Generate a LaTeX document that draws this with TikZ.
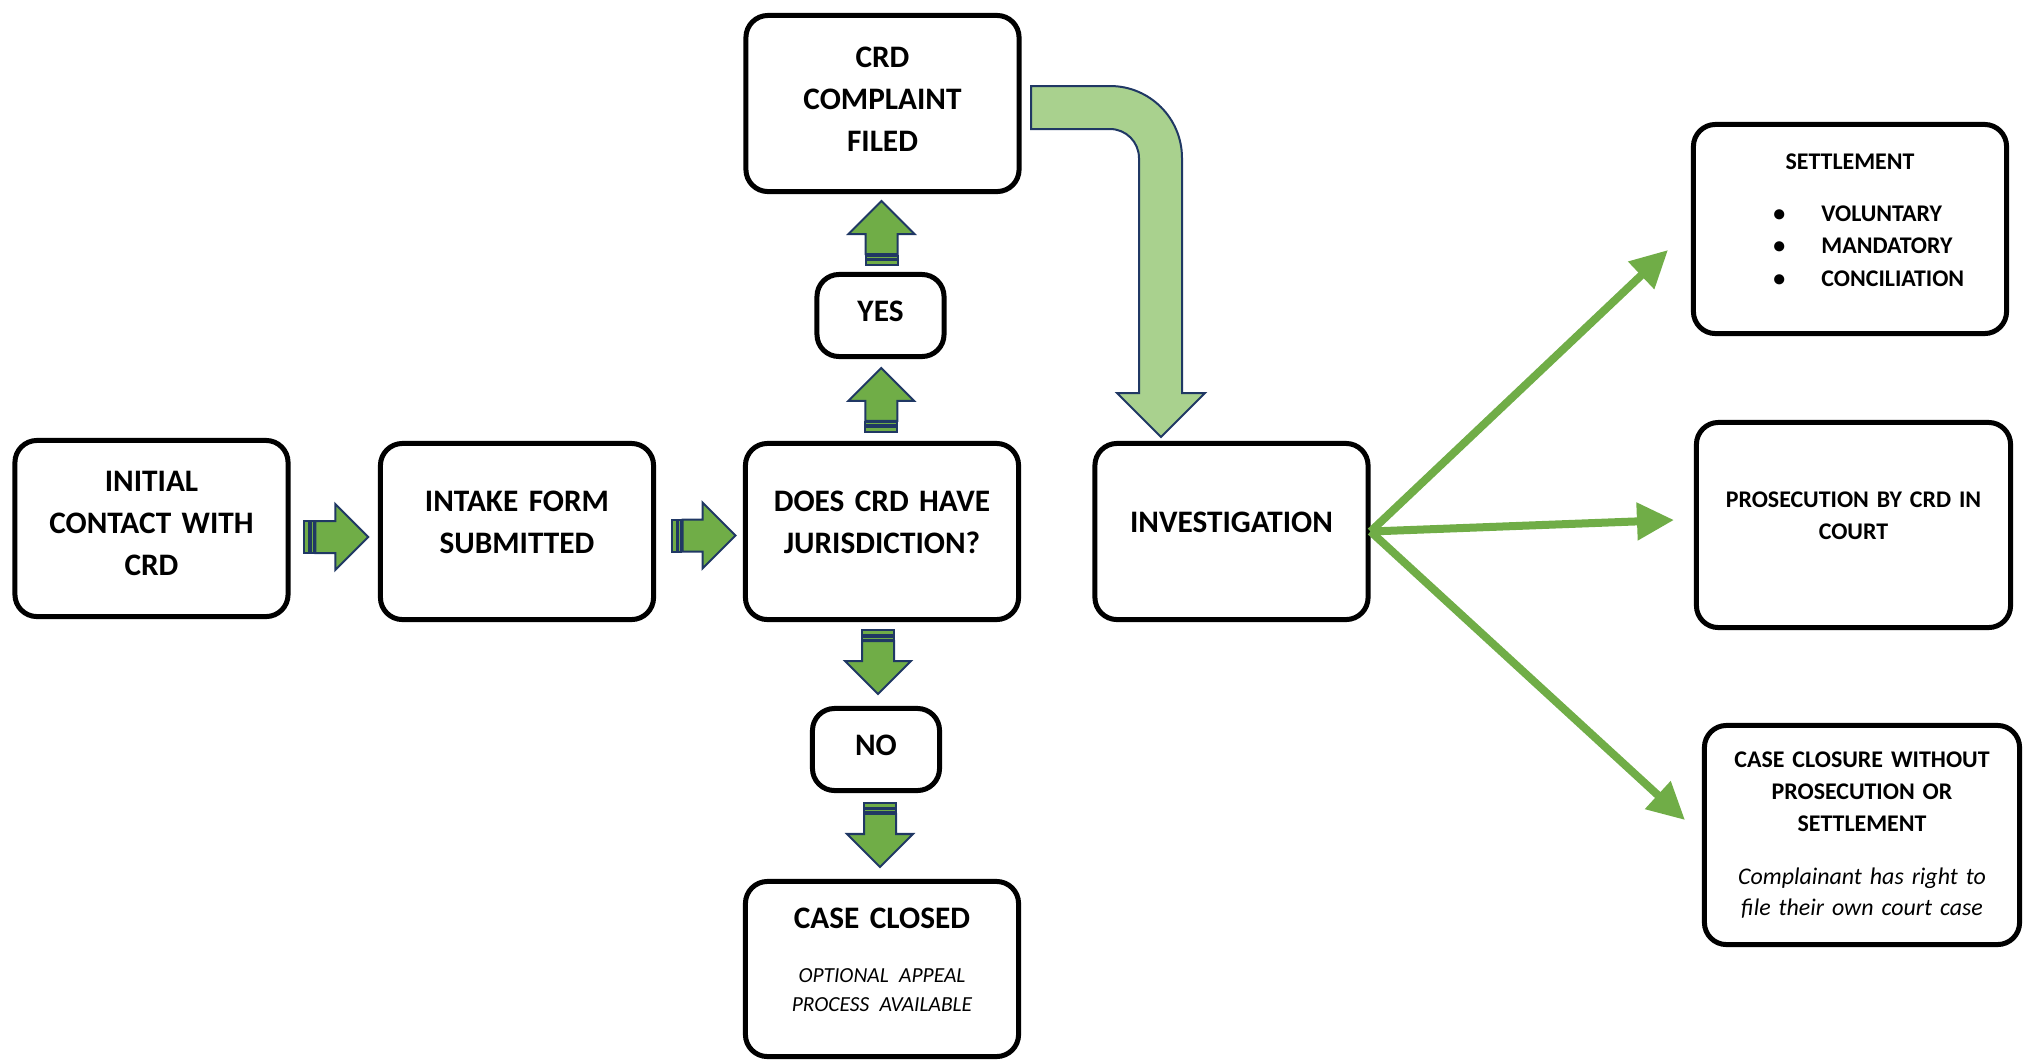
\documentclass[tikz,border=0pt]{standalone}
\usepackage{fontspec}
\setmainfont{Carlito}
\usetikzlibrary{calc,arrows.meta,positioning}
\definecolor{flowGreen}{RGB}{112,173,71}
\definecolor{paleGreen}{RGB}{169,209,142}
\definecolor{flowNavy}{RGB}{32,56,100}
\tikzset{
  lift/.style={execute at end node={\par\vspace{#1}}},
  stepbox/.style={draw=black,line width=0.05cm,rounded corners=0.22cm,inner sep=0pt,align=center,text width=2.6cm,
    minimum width=2.73cm,minimum height=1.76cm,font=\bfseries\fontsize{8.9}{12}\selectfont},
  answerbox/.style={stepbox,text width=1.2cm,minimum width=1.27cm,minimum height=0.82cm},
  outcomebox/.style={stepbox,text width=3.1cm,font=\bfseries\fontsize{6.8}{9.2}\selectfont},
  fanarrow/.style={draw=flowGreen,line width=0.08cm,-{Triangle[length=0.37cm,width=0.36cm]}},
  stripe/.style={fill=flowGreen,draw=flowNavy,line width=0.02cm}
}
\newcommand{\StripedArrow}[2]{%
\begin{scope}[shift={#1},rotate=#2]
  \filldraw[stripe] (-32,-16) rectangle (-27,16);
  \filldraw[stripe] (-25.5,-16) rectangle (-22.5,16);
  \filldraw[stripe] (-21,-16) -- (-1,-16) -- (-1,-33) -- (32,0) -- (-1,33) -- (-1,16) -- (-21,16) -- cycle;
\end{scope}}

\begin{document}
\begin{tikzpicture}[x=0.01cm,y=-0.01cm]
\useasboundingbox (0,0) rectangle (2032,1063);

% main line
\node[stepbox,lift=0.1cm] (contact) at (151.5,528.5) {INITIAL\\CONTACT WITH\\CRD};
\node[stepbox,lift=0.18cm] (intake) at (517,531.5) {INTAKE FORM\\SUBMITTED};
\node[stepbox,lift=0.18cm] (juris) at (882,531.5) {DOES CRD HAVE\\JURISDICTION?};
\node[stepbox,lift=0.08cm] (complaint) at (882.5,103.5) {CRD\\COMPLAINT\\FILED};
\node[answerbox,lift=0.09cm] (yes) at (880.5,315.5) {YES};
\node[answerbox,lift=0.09cm] (no) at (876,749.5) {NO};
\node[stepbox,lift=0.18cm,minimum height=1.75cm] (closed) at (882,969) {CASE CLOSED\par\vspace{0.25cm}
  {\mdseries\itshape\fontsize{6.1}{8.3}\selectfont OPTIONAL APPEAL\\PROCESS AVAILABLE\par}};
\node[stepbox,lift=0.18cm] (invest) at (1231.5,531.5) {INVESTIGATION};

% outcomes
\node[outcomebox,lift=0.18cm,text width=3.13cm,minimum width=3.13cm,minimum height=2.09cm,align=left] (settle) at (1850,229) {%
  \makebox[\linewidth][c]{SETTLEMENT}\par\vspace{0.2cm}
  \hspace*{0.8cm}\makebox[0.48cm][l]{\textbullet}VOLUNTARY\\
  \hspace*{0.8cm}\makebox[0.48cm][l]{\textbullet}MANDATORY\\
  \hspace*{0.8cm}\makebox[0.48cm][l]{\textbullet}CONCILIATION};
\node[outcomebox,lift=0.18cm,minimum width=3.14cm,minimum height=2.05cm] (prosec) at (1853.5,525) {PROSECUTION BY CRD IN\\COURT};
\node[outcomebox,minimum width=3.15cm,minimum height=2.19cm] (closure) at (1862,835) {CASE CLOSURE WITHOUT\\PROSECUTION OR\\SETTLEMENT\par\vspace{0.22cm}
  {\mdseries\itshape\fontsize{6.8}{8.8}\selectfont Complainant has right to\\file their own court case\par}};

% striped arrows
\StripedArrow{($(contact.east)!0.5!(intake.west)+(2,7)$)}{0}
\StripedArrow{($(intake.east)!0.5!(juris.west)+(4,4)$)}{0}
\StripedArrow{($(juris.north)!0.5!(yes.south)$)}{90}
\StripedArrow{($(yes.north)!0.5!(complaint.south)$)}{90}
\StripedArrow{($(juris.south)!0.5!(no.north)+(-1,-2)$)}{-90}
\StripedArrow{($(no.south)!0.5!(closed.north)+(1,-1)$)}{-90}

% bent arrow to investigation
\filldraw[fill=paleGreen,draw=flowNavy,line width=0.02cm]
  (1031,86) -- (1110,86) .. controls (1149.8,86) and (1182,118.2) .. (1182,158)
  -- (1182,393) -- (1205,393) -- (1161,437) -- (1117,393) -- (1139,393)
  -- (1139,158) .. controls (1139,142) and (1126,129) .. (1110,129) -- (1031,129) -- cycle;

% fan out
\coordinate (settleTip) at (1668,250);
\coordinate (prosecTip) at (1674,520);
\coordinate (closureTip) at (1685,820);
\draw[fanarrow] (invest.east) -- (settleTip);
\draw[fanarrow] (invest.east) -- (prosecTip);
\draw[fanarrow] (invest.east) -- (closureTip);
\end{tikzpicture}
\end{document}
